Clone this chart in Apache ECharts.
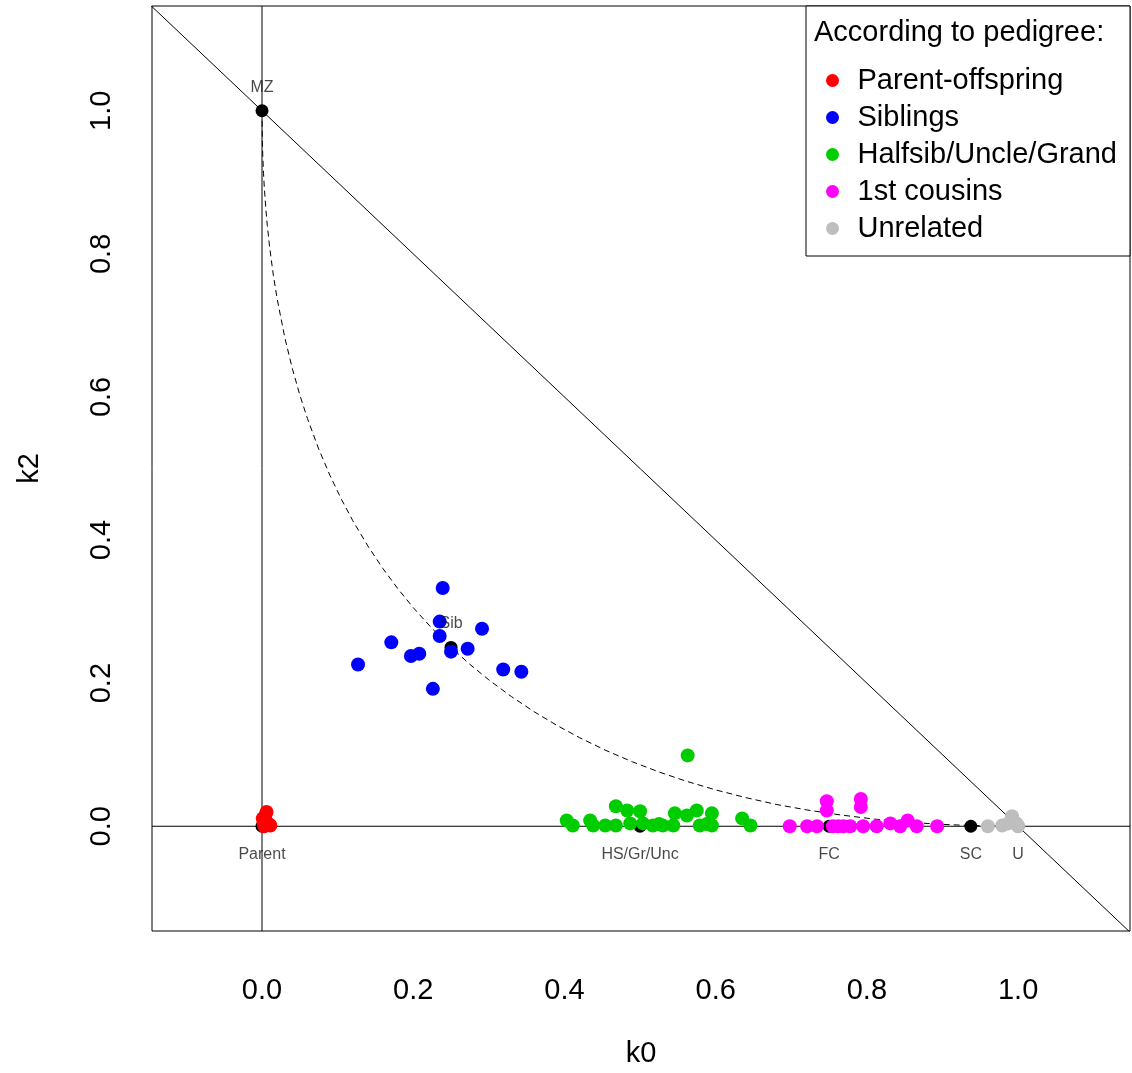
<!DOCTYPE html>
<html>
<head>
<meta charset="utf-8">
<script src="https://cdn.jsdelivr.net/npm/echarts@6/dist/echarts.min.js"></script>
<style>
  html, body { margin: 0; padding: 0; background: #fff; }
  #chart { width: 1132px; height: 1073px; }
</style>
</head>
<body>
<div id="chart"></div>
<script>
// relationship groups, (k0, k2)
const groupNames = ['Parent-offspring', 'Siblings', 'Halfsib/Uncle/Grand', '1st cousins', 'Unrelated']
const groupColors = ['#ff0000', '#0000ff', '#00cd00', '#ff00ff', '#bebebe']

const parentK0 = [0.006, 0.004, 0.001, 0.002, 0.005, 0.009, 0.011, 0.003]
const parentK2 = [0.020, 0.014, 0.011, 0.005, 0.007, 0.003, 0.001, 0.000]

const sibK0 = [0.127, 0.171, 0.197, 0.208, 0.226, 0.235, 0.235, 0.239, 0.250, 0.272, 0.291, 0.319, 0.343]
const sibK2 = [0.226, 0.257, 0.238, 0.241, 0.192, 0.266, 0.286, 0.333, 0.244, 0.248, 0.276, 0.219, 0.216]

const halfK0 = [0.403, 0.411, 0.434, 0.438, 0.454, 0.468, 0.468, 0.483, 0.487, 0.500, 0.504, 0.517, 0.525,
  0.530, 0.546, 0.544, 0.562, 0.575, 0.579, 0.588, 0.595, 0.595, 0.563, 0.635, 0.646]
const halfK2 = [0.008, 0.001, 0.008, 0.001, 0.001, 0.028, 0.001, 0.022, 0.004, 0.021, 0.004, 0.001, 0.003,
  0.001, 0.018, 0.001, 0.015, 0.022, 0.001, 0.003, 0.018, 0.001, 0.099, 0.011, 0.001]

const cousinK0 = [0.698, 0.721, 0.734, 0.747, 0.747, 0.755, 0.762, 0.769, 0.778, 0.792, 0.792, 0.795, 0.813,
  0.831, 0.844, 0.854, 0.866, 0.893]
const cousinK2 = [0.000, 0.000, 0.000, 0.035, 0.022, 0.000, 0.000, 0.000, 0.000, 0.038, 0.027, 0.000, 0.000,
  0.004, 0.000, 0.008, 0.000, 0.000]

const unrelK0 = [0.960, 0.979, 0.987, 0.992, 0.998, 1.000]
const unrelK2 = [0.000, 0.001, 0.004, 0.014, 0.004, 0.000]

// reference relationships
const refNames = ['MZ', 'Parent', 'Sib', 'HS/Gr/Unc', 'FC', 'SC', 'U']
const refK0 = [0, 0, 0.25, 0.5, 0.75, 0.9375, 1]
const refK2 = [1, 0, 0.25, 0, 0, 0, 0]

// dashed boundary curve
const curveK0 = [0, 0.0005, 0.001, 0.002, 0.003, 0.005, 0.007, 0.01, 0.015, 0.02, 0.03, 0.04, 0.05, 0.06,
  0.075, 0.09, 0.105, 0.12, 0.14, 0.16, 0.18, 0.2, 0.225, 0.25, 0.275, 0.3, 0.33, 0.36, 0.39, 0.42, 0.455,
  0.49, 0.525, 0.56, 0.6, 0.64, 0.68, 0.72, 0.765, 0.81, 0.855, 0.9, 0.9375, 1]
const curveK2 = [1, 0.9558, 0.9377, 0.9126, 0.8935, 0.8636, 0.8397, 0.81, 0.7701, 0.7372, 0.6836, 0.64,
  0.6028, 0.5701, 0.5273, 0.49, 0.4570, 0.4272, 0.3917, 0.36, 0.3315, 0.3056, 0.2763, 0.25, 0.2262, 0.2046,
  0.1811, 0.16, 0.1410, 0.1238, 0.1059, 0.09, 0.0759, 0.0633, 0.0508, 0.04, 0.0305, 0.0229, 0.0158, 0.01,
  0.0056, 0.0026, 0.001, 0]

const tickValues = [0, 0.2, 0.4, 0.6, 0.8, 1.0]

const xMin = -0.1455
const xMax = 1.148
const yMin = -0.1464
const yMax = 1.1464

const font = 'Liberation Sans, Arial, sans-serif'

function zip(a, b) {
  return a.map((v, i) => [v, b[i]])
}

const groups = [
  zip(parentK0, parentK2),
  zip(sibK0, sibK2),
  zip(halfK0, halfK2),
  zip(cousinK0, cousinK2),
  zip(unrelK0, unrelK2)
]

const lineBase = {
  type: 'line',
  symbol: 'none',
  silent: true,
  z: 1,
  lineStyle: { color: '#000', width: 1 }
}

const series = [
  Object.assign({}, lineBase, { data: [[-0.2, 1.2], [1.2, -0.2]] }),
  Object.assign({}, lineBase, { data: [[xMin, 0], [xMax, 0]] }),
  Object.assign({}, lineBase, { data: [[0, yMin], [0, yMax]] }),
  Object.assign({}, lineBase, {
    data: zip(curveK0, curveK2),
    lineStyle: { color: '#000', width: 1, type: [6, 4] }
  }),
  {
    type: 'scatter',
    symbolSize: 13,
    z: 2,
    itemStyle: { color: '#000', opacity: 1 },
    data: zip(refK0, refK2)
  }
]

groups.forEach((g, i) => {
  series.push({
    name: groupNames[i],
    type: 'scatter',
    symbolSize: 14,
    z: 3,
    itemStyle: { color: groupColors[i], opacity: 1 },
    data: g
  })
})

// labels for the reference points, on top of everything
series.push({
  type: 'scatter',
  symbolSize: 1,
  z: 5,
  silent: true,
  itemStyle: { color: 'rgba(0,0,0,0)' },
  data: refNames.map((n, i) => {
    const above = n === 'MZ' || n === 'Sib'
    return {
      value: [refK0[i], refK2[i]],
      name: n,
      label: {
        show: true,
        position: above ? 'top' : 'bottom',
        distance: above ? 15 : 20,
        formatter: '{b}',
        fontFamily: font,
        fontSize: 16,
        color: '#1a1a1a'
      }
    }
  })
})

const chart = echarts.init(document.getElementById('chart'))
chart.setOption({
  animation: false,
  backgroundColor: '#fff',
  grid: {
    left: 152,
    right: 2,
    top: 6,
    bottom: 140,
    show: true,
    borderColor: '#000',
    borderWidth: 1,
    backgroundColor: 'transparent'
  },
  xAxis: {
    type: 'value',
    min: xMin,
    max: xMax,
    name: 'k0',
    nameLocation: 'middle',
    nameGap: 108,
    nameTextStyle: { fontFamily: font, fontSize: 29, color: '#000' },
    axisLine: { show: false },
    axisTick: { show: false },
    splitLine: { show: false },
    axisLabel: {
      customValues: tickValues,
      formatter: v => v.toFixed(1),
      margin: 45,
      fontFamily: font,
      fontSize: 29,
      color: '#000'
    }
  },
  yAxis: {
    type: 'value',
    min: yMin,
    max: yMax,
    name: 'k2',
    nameLocation: 'middle',
    nameGap: 108,
    nameTextStyle: { fontFamily: font, fontSize: 29, color: '#000' },
    axisLine: { show: false },
    axisTick: { show: false },
    splitLine: { show: false },
    axisLabel: {
      customValues: tickValues,
      formatter: v => v.toFixed(1),
      rotate: 90,
      margin: 36,
      fontFamily: font,
      fontSize: 29,
      color: '#000'
    }
  },
  legend: {
    data: groupNames,
    orient: 'vertical',
    left: 821,
    top: 61,
    icon: 'circle',
    itemWidth: 40,
    itemHeight: 13,
    itemGap: 8,
    selectedMode: false,
    textStyle: { fontFamily: font, fontSize: 29, color: '#000', lineHeight: 28 }
  },
  graphic: [
    {
      type: 'rect',
      z: 0,
      shape: { x: 806, y: 6, width: 324, height: 250 },
      style: { fill: '#fff', stroke: '#000', lineWidth: 1 }
    },
    {
      type: 'text',
      z: 1,
      x: 814,
      y: 33,
      style: {
        text: 'According to pedigree:',
        fontFamily: font,
        fontSize: 29,
        fill: '#000',
        verticalAlign: 'middle'
      }
    }
  ],
  series: series
})
</script>
</body>
</html>
